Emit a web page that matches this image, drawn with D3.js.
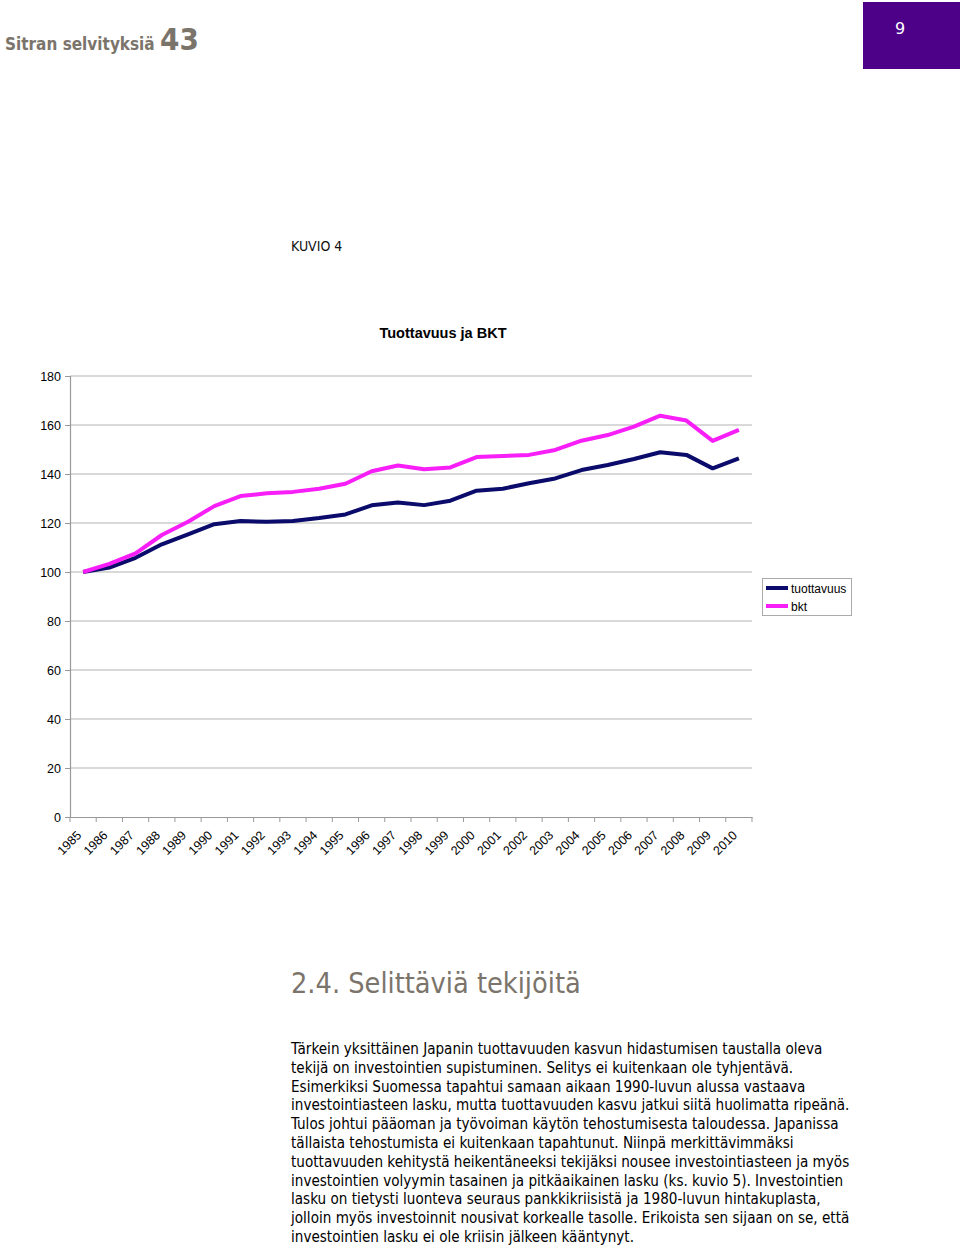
<!DOCTYPE html>
<html><head><meta charset="utf-8">
<script src="https://cdn.jsdelivr.net/npm/d3@7"></script>
<style>body{margin:0;background:#fff}svg{display:block}</style>
</head><body>
<script>
const years = ["1985","1986","1987","1988","1989","1990","1991","1992","1993","1994","1995","1996","1997","1998","1999","2000","2001","2002","2003","2004","2005","2006","2007","2008","2009","2010"];
const tuottavuus = [100,101.8,105.8,111.3,115.4,119.5,120.8,120.5,120.8,122.0,123.5,127.2,128.4,127.3,129.1,133.2,134.0,136.2,138.2,141.6,143.7,146.1,148.9,147.8,142.3,146.4];
const bkt = [100,103.3,107.6,115.1,120.5,126.9,131.0,132.1,132.7,134.0,136.0,141.1,143.5,141.9,142.7,146.9,147.3,147.8,149.8,153.6,155.9,159.3,163.8,161.8,153.5,158.0];
const yTicks = [0,20,40,60,80,100,120,140,160,180];
const seriesNames = ["tuottavuus","bkt"];
const seriesColors = ["#0b0b6b","#f81ef8"];
const bodyLines = [
"Tärkein yksittäinen Japanin tuottavuuden kasvun hidastumisen taustalla oleva",
"tekijä on investointien supistuminen. Selitys ei kuitenkaan ole tyhjentävä.",
"Esimerkiksi Suomessa tapahtui samaan aikaan 1990-luvun alussa vastaava",
"investointiasteen lasku, mutta tuottavuuden kasvu jatkui siitä huolimatta ripeänä.",
"Tulos johtui pääoman ja työvoiman käytön tehostumisesta taloudessa. Japanissa",
"tällaista tehostumista ei kuitenkaan tapahtunut. Niinpä merkittävimmäksi",
"tuottavuuden kehitystä heikentäneeksi tekijäksi nousee investointiasteen ja myös",
"investointien volyymin tasainen ja pitkäaikainen lasku (ks. kuvio 5). Investointien",
"lasku on tietysti luonteva seuraus pankkikriisistä ja 1980-luvun hintakuplasta,",
"jolloin myös investoinnit nousivat korkealle tasolle. Erikoista sen sijaan on se, että",
"investointien lasku ei ole kriisin jälkeen kääntynyt."
];

const W=960,H=1248;
const svg=d3.select("body").append("svg").attr("width",W).attr("height",H);

// header
const hdr=svg.append("text").attr("x",5).attr("y",50).attr("fill","#7b746b")
  .attr("font-family","DejaVu Sans Condensed, sans-serif").attr("font-weight","bold");
hdr.append("tspan").attr("font-size",17).text("Sitran selvityksiä ");
hdr.append("tspan").attr("font-size",31).text("43");
svg.append("rect").attr("x",863).attr("y",2).attr("width",97).attr("height",67).attr("fill","#4d0088");
svg.append("text").attr("x",900).attr("y",34).attr("fill","#fff").attr("font-size",16)
  .attr("font-family","DejaVu Sans, sans-serif").attr("text-anchor","middle").text("9");

svg.append("text").attr("x",291).attr("y",251).attr("font-size",14)
  .attr("font-family","DejaVu Sans Condensed, sans-serif").attr("fill","#111").text("KUVIO 4");
svg.append("text").attr("x",443).attr("y",338).attr("font-size",14.5).attr("font-weight","bold")
  .attr("font-family","Liberation Sans, Arial, sans-serif").attr("text-anchor","middle").attr("fill","#000").text("Tuottavuus ja BKT");

// chart
const x=d3.scaleBand().domain(years).range([70,752]);
const y=d3.scaleLinear().domain([0,180]).range([817,376]);
const g=svg.append("g");
g.selectAll(".grid").data(yTicks.filter(d=>d>0)).join("line")
  .attr("x1",70).attr("x2",752).attr("y1",d=>y(d)).attr("y2",d=>y(d))
  .attr("stroke","#b3b3b3").attr("stroke-width",1.2);
const yAxis=g.append("g").attr("transform","translate(70,0)")
  .call(d3.axisLeft(y).tickValues(yTicks).tickSize(5).tickPadding(4));
yAxis.select(".domain").attr("stroke","#999").attr("stroke-width",1.2);
yAxis.selectAll(".tick line").attr("stroke","#999");
yAxis.selectAll("text").attr("font-family","Liberation Sans, Arial, sans-serif").attr("font-size",12.5).attr("fill","#000");

const xAxis=g.append("g").attr("transform","translate(0,817)")
  .call(d3.axisBottom(x).tickSize(0).tickFormat(""));
xAxis.select(".domain").attr("stroke","#999").attr("stroke-width",1.2);
// tick marks between categories
const edges=years.map(d=>x(d)).concat([x(years[years.length-1])+x.bandwidth()]);
g.selectAll(".xt").data(edges).join("line")
  .attr("x1",d=>d).attr("x2",d=>d).attr("y1",817).attr("y2",822).attr("stroke","#999");
g.selectAll(".xl").data(years).join("text")
  .attr("transform",d=>`translate(${x(d)+x.bandwidth()/2-1},${836}) rotate(-45)`)
  .attr("text-anchor","end").attr("font-family","Liberation Sans, Arial, sans-serif")
  .attr("font-size",12.5).attr("fill","#000").text(d=>d);

const line=d3.line().x((d,i)=>x(years[i])+x.bandwidth()/2).y(d=>y(d));
[tuottavuus,bkt].forEach((s,i)=>{
  g.append("path").datum(s).attr("d",line).attr("fill","none")
   .attr("stroke",seriesColors[i]).attr("stroke-width",4).attr("stroke-linejoin","round");
});

// legend
const lg=svg.append("g");
lg.append("rect").attr("x",762.5).attr("y",578.5).attr("width",89).attr("height",37)
  .attr("fill","#fff").attr("stroke","#aaa");
seriesNames.forEach((n,i)=>{
  const yy=588+i*18;
  lg.append("line").attr("x1",766).attr("x2",788).attr("y1",yy).attr("y2",yy)
    .attr("stroke",seriesColors[i]).attr("stroke-width",4);
  lg.append("text").attr("x",791).attr("y",yy+4.5).attr("font-size",12)
    .attr("font-family","Liberation Sans, Arial, sans-serif").attr("fill","#000").text(n);
});

// section heading
svg.append("text").attr("x",291).attr("y",993).attr("font-size",28.6)
  .attr("font-family","DejaVu Sans Condensed, sans-serif").attr("fill","#7b746b").text("2.4. Selittäviä tekijöitä");

svg.append("g").selectAll("text").data(bodyLines).join("text")
  .attr("x",291).attr("y",(d,i)=>1054+i*18.8)
  .attr("font-family","DejaVu Sans Condensed, sans-serif").attr("font-size",15.1).attr("fill","#000")
  .text(d=>d);
</script>
</body></html>
